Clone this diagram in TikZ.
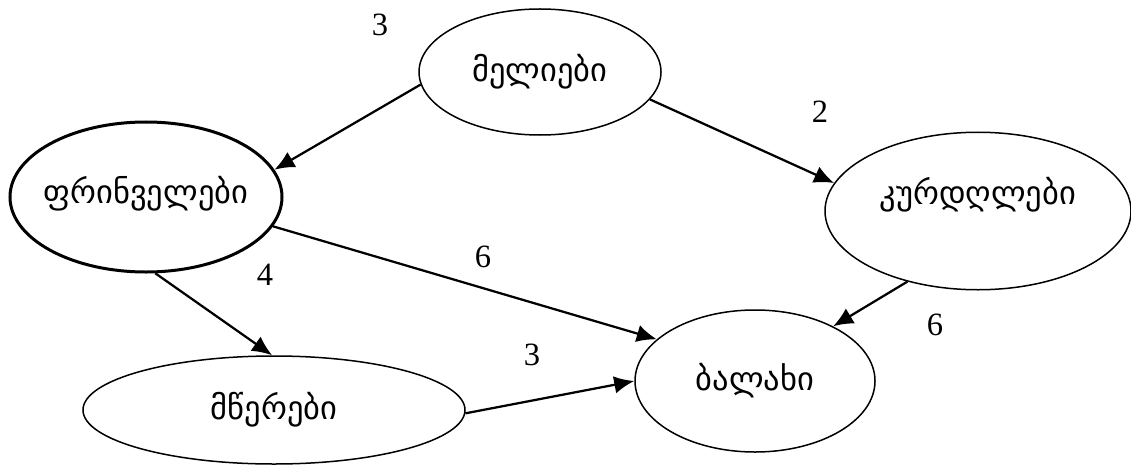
\documentclass[tikz,border=0pt]{standalone}
\usepackage{fontspec}
\usepackage{tikz}
\setmainfont{Liberation Serif}
\newfontfamily\geofont{DejaVu Sans}
\usetikzlibrary{shapes, arrows.meta, positioning}

\begin{document}
\begin{tikzpicture}[x=0.4pt, y=-0.4pt,
    animal/.style={draw, ellipse, line width=0.6pt, font=\geofont\fontsize{13}{15}\selectfont, inner sep=0pt},
    feeds/.style={-{Latex[length=8pt, width=7pt]}, line width=0.9pt},
    weight/.style={font=\fontsize{13}{15}\selectfont}]
    \useasboundingbox (0,0) rectangle (1131,466);

    % Animals
    \node[animal, minimum width=96.8pt, minimum height=50.4pt] (fox) at (540,72) {მელიები};
    \node[animal, line width=1.2pt, inner xsep=-8pt, inner ysep=-5pt, minimum width=108.8pt, minimum height=60pt] (birds) at (146,197) {\raisebox{5.6pt}{ფრინველები}};
    \node[animal, minimum width=122.4pt, minimum height=63pt] (rabbits) at (978,211) {\raisebox{16pt}{კურდღლები}};
    \node[animal, minimum width=96pt, minimum height=56.8pt] (grass) at (755,381) {ბალახი};
    \node[animal, minimum width=152.8pt, minimum height=43.2pt] (insects) at (274,410) {\raisebox{-6pt}{მწერები}};

    % Arrows
    \draw[feeds] (fox.186) -- (birds.12);
    \draw[feeds] (fox.346) -- (rabbits.169);
    \draw[feeds] (birds.347) -- (grass.157);
    \draw[feeds] (birds.277) -- (insects.92);
    \draw[feeds] (rabbits.225) -- (grass.35);
    \draw[feeds] (insects.359) -- (grass.180);

    % Weights
    \node[weight] (w1) at (380,25) {3};
    \node[weight] (w2) at (820,112) {2};
    \node[weight] (w3) at (483,257) {6};
    \node[weight] (w4) at (265,275) {4};
    \node[weight] (w5) at (532,355) {3};
    \node[weight] (w6) at (935,325) {6};
\end{tikzpicture}
\end{document}
